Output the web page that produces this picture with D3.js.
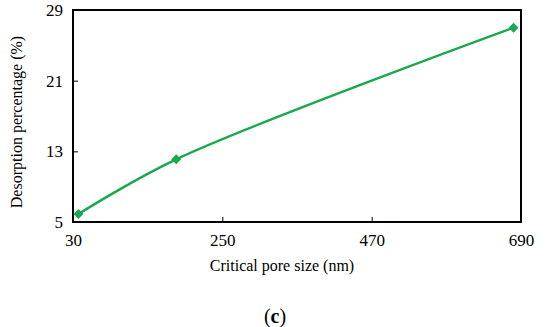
<!DOCTYPE html>
<html><head><meta charset="utf-8">
<script src="https://cdn.jsdelivr.net/npm/d3@7"></script>
</head><body style="margin:0">
<script>
const poreSize = [38, 182, 679];
const desorption = [5.9, 12.1, 27.0];
const xTicks = [30, 250, 470, 690];
const yTicks = [5, 13, 21, 29];

const W = 550, H = 327;
const m = {l: 73, r: 29, t: 10, b: 105};
const FONT = "'Liberation Serif'";
const svg = d3.select("body").append("svg").attr("width", W).attr("height", H).style("display", "block");
const x = d3.scaleLinear().domain([30, 690]).range([m.l, W - m.r]);
const y = d3.scaleLinear().domain([5, 29]).range([H - m.b, m.t]);

const gx = svg.append("g").attr("transform", `translate(0,${H - m.b})`)
  .call(d3.axisBottom(x).tickValues(xTicks).tickSize(-5).tickPadding(12));
const gy = svg.append("g").attr("transform", `translate(${m.l},0)`)
  .call(d3.axisLeft(y).tickValues(yTicks).tickSize(-5).tickPadding(10));
[gx, gy].forEach(g => {
  g.attr("font-family", null).attr("font-size", null);
  g.select(".domain").remove();
  g.selectAll("line").attr("stroke", "#000").attr("stroke-width", 1);
  g.selectAll("text").style("font-family", FONT).attr("font-size", 17).attr("fill", "#000");
});

svg.append("rect").attr("x", x(30)).attr("y", y(29))
  .attr("width", x(690) - x(30)).attr("height", y(5) - y(29))
  .attr("fill", "none").attr("stroke", "#000").attr("stroke-width", 2);

const pts = poreSize.map((d, i) => [d, desorption[i]]);
svg.append("path").datum(pts)
  .attr("d", d3.line().x(d => x(d[0])).y(d => y(d[1])).curve(d3.curveCatmullRom.alpha(0.5)))
  .attr("fill", "none").attr("stroke", "#1aa84e").attr("stroke-width", 2.5);
svg.selectAll(".pt").data(pts).enter().append("path")
  .attr("d", d3.symbol().type(d3.symbolSquare).size(50))
  .attr("transform", d => `translate(${x(d[0])},${y(d[1])}) rotate(45)`)
  .attr("fill", "#1aa84e");

svg.append("text").attr("x", 282).attr("y", 271).attr("text-anchor", "middle")
  .style("font-family", FONT).attr("font-size", 16).text("Critical pore size (nm)");
svg.append("text").attr("transform", "translate(22,122) rotate(-90)").attr("text-anchor", "middle")
  .style("font-family", FONT).attr("font-size", 16).text("Desorption percentage (%)");
const c = svg.append("text").attr("x", 275).attr("y", 323).attr("text-anchor", "middle")
  .style("font-family", FONT).attr("font-size", 20);
c.append("tspan").text("(");
c.append("tspan").attr("font-weight", "bold").text("c");
c.append("tspan").text(")");
</script>
</body></html>
